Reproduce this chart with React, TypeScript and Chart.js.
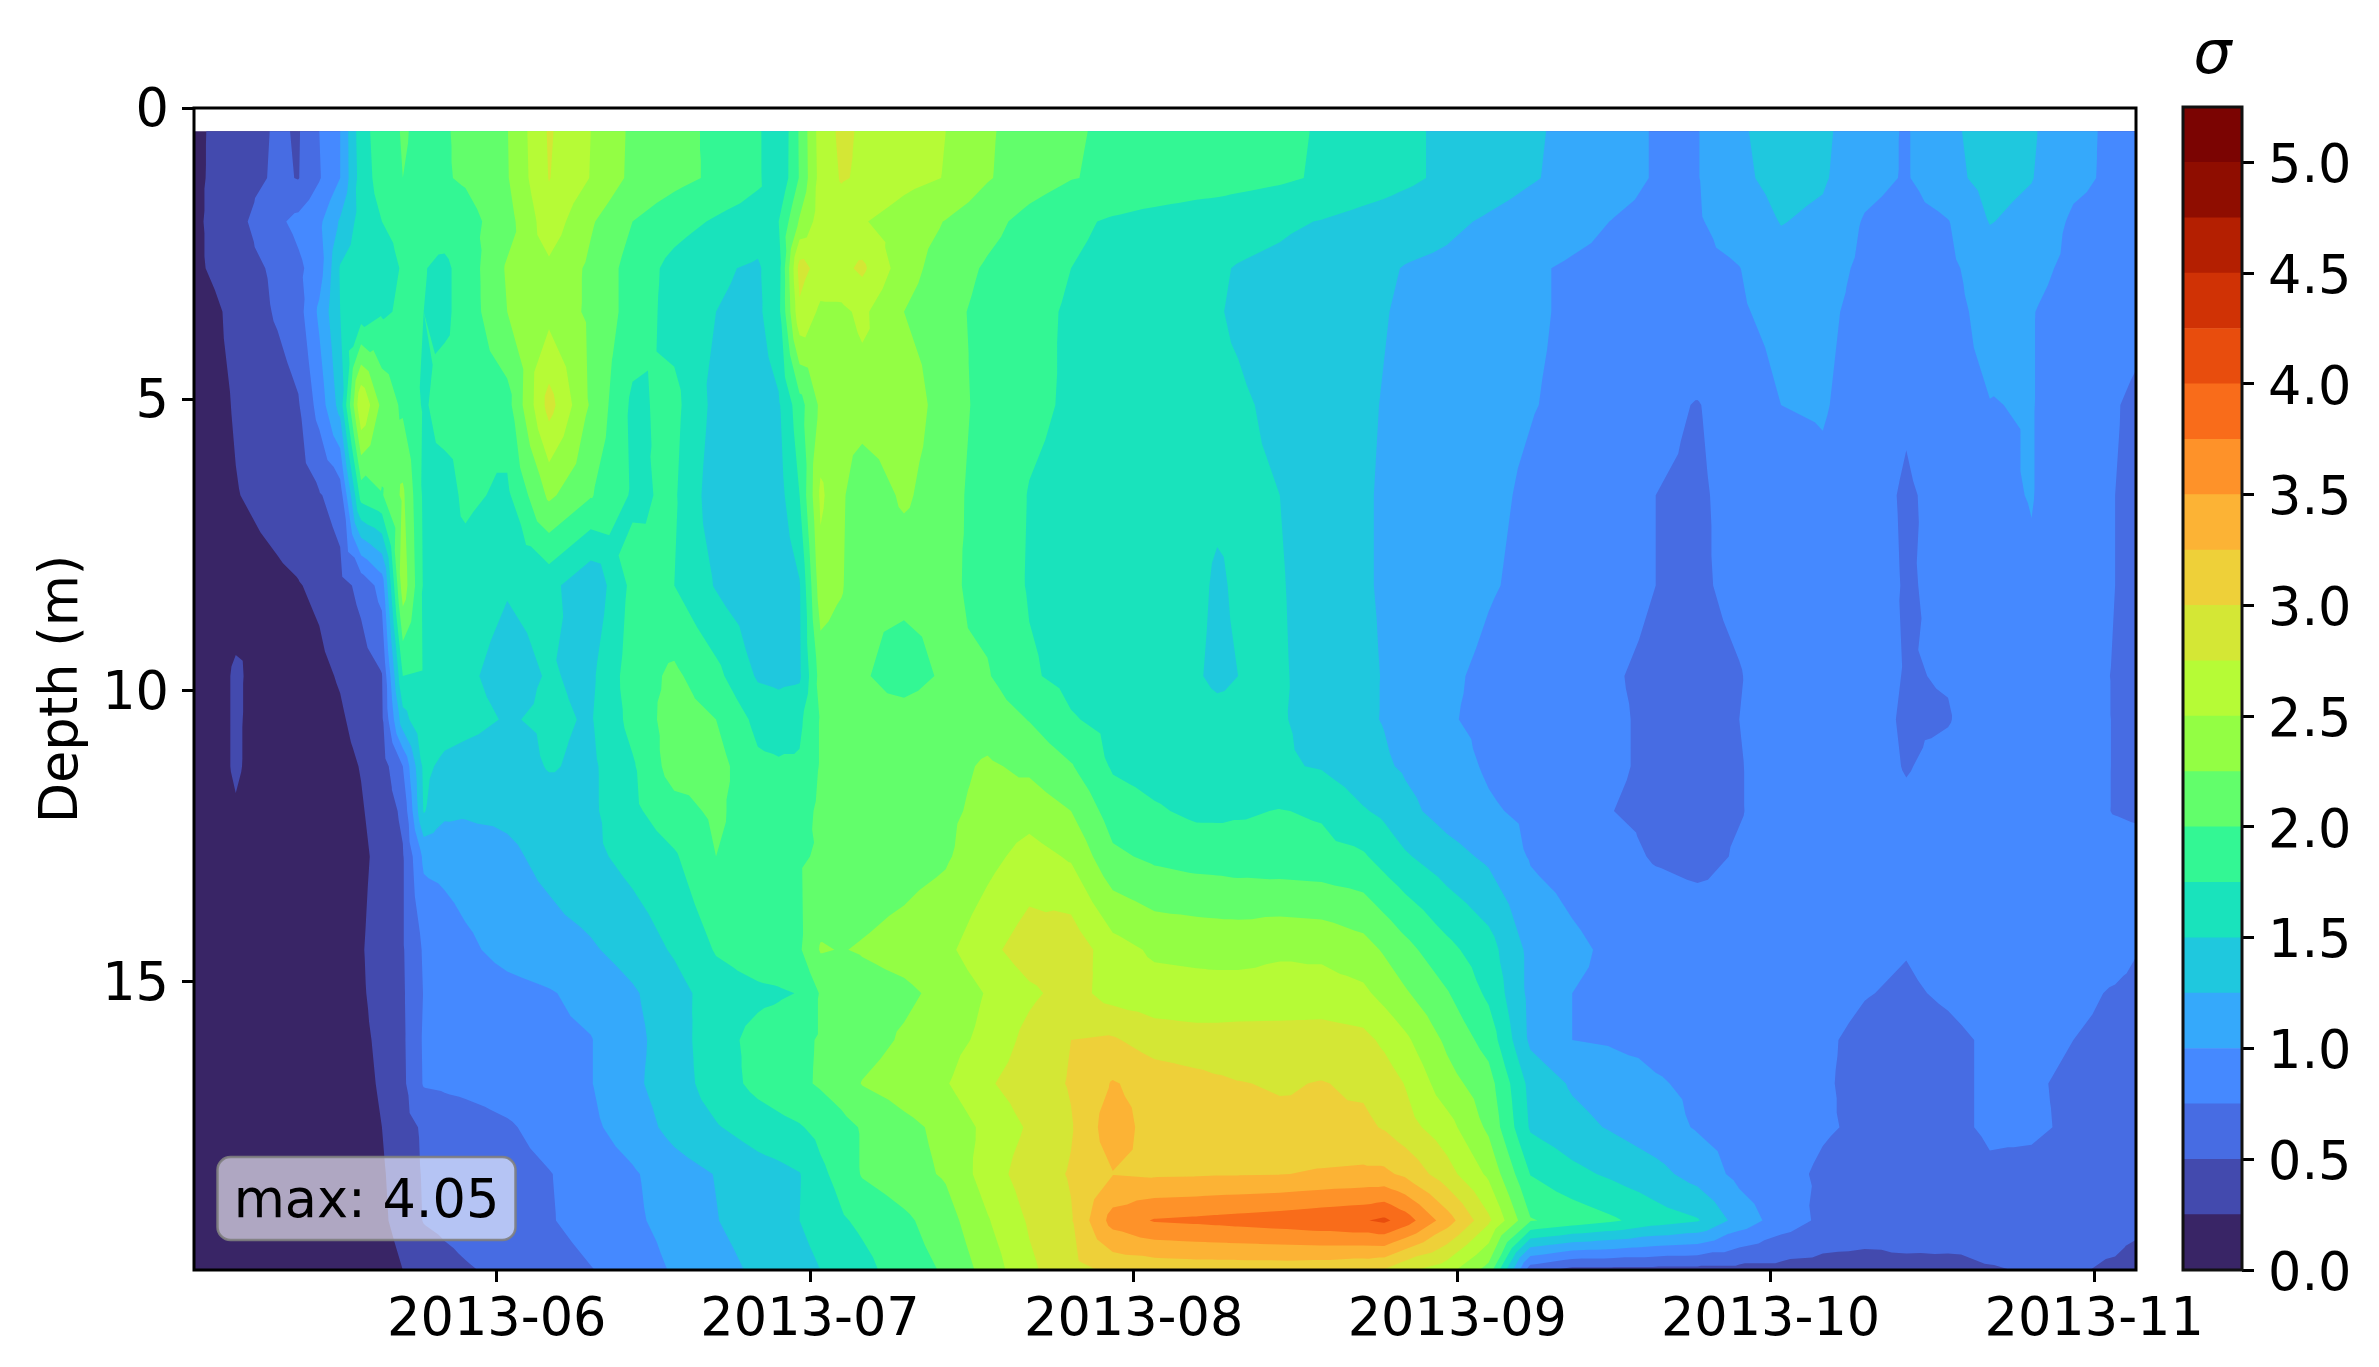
import React, { useEffect, useRef } from "react";
import { Chart, registerables } from "chart.js";
Chart.register(...registerables);

const FONT = "'DejaVu Sans'";
const FONT_SIZE = 52.5;
const monthDays = [29, 59, 90, 121, 151, 182];
const monthLabels = ["2013-06", "2013-07", "2013-08", "2013-09", "2013-10", "2013-11"];
const depthTicks = [0, 5, 10, 15];

// days since 2013-05-03
const sampleDays = [0,4,8,10,12, 14,16,18,20,22, 24,26,30,34,38, 42,46,50,54,56, 58,60,62,64,68, 72,76,80,84,88, 92,96,98,100,104, 108,112,114,116,120, 124,128,132,136,140, 144,148,152,156,160, 164,168,172,176,180, 184,186];
const depths = [0.4,1.2,1.95,2.75,3.5,5.1,6.65,8.2,9.75,10.5,11.3,12.07,12.85,14.45,15.2,16,16.75,17.5,18.3,19.1,19.95];

const sigmaD00_4 = [.20,.37,.53,.48,.75, 1.0,1.65,1.88,2.02,1.95, 1.98,2.05,2.24,2.78,2.5, 2.2,2.08,1.95,1.8,1.5, 2.03,2.62,2.8,2.72,2.6, 2.5,2.28,2.14,2.02,1.97, 1.94,1.9,1.88,1.85,1.8, 1.73,1.65,1.6,1.55,1.45, 1.38,1.28,1.2,1.1,.98, .99,1.22,1.35,1.3,1.1, .98,1.2,1.35,1.28,1.07, .95,.93];
const sigmaD01_2 = [.20,.38,.54,.49,.73, 1.0,1.62,1.86,2.0,1.95, 1.98,2.03,2.23,2.76,2.49, 2.19,2.07,1.96,1.8,1.52, 2.02,2.6,2.77,2.72,2.58, 2.49,2.27,2.12,2.01,1.96, 1.93,1.88,1.87,1.84,1.79, 1.72,1.64,1.6,1.55,1.45, 1.36,1.27,1.19,1.1,.98, .99,1.2,1.33,1.28,1.08, .98,1.18,1.33,1.26,1.06, .95,.93];
const sigmaD01_95 = [.2,.42,.7,.82,.95, 1.28,1.6,1.75,1.78,1.82, 1.86,1.9,2.15,2.65,2.28, 2.0,1.85,1.72,1.62,1.75, 2.28,2.62,2.62,2.52,2.38, 2.24,2.08,1.92,1.8,1.72, 1.66,1.62,1.6,1.58,1.54, 1.49,1.42,1.39,1.36,1.3, 1.22,1.15,1.08,.99,.93, .98,1.1,1.26,1.2,.98, .9,.99,1.26,1.18,.96, .9,.88];
const sigmaD02_75 = [.2,.38,.55,.7,.88, 1.52,1.6,1.7,1.76,1.76, 1.7,1.85,2.28,2.45,2.2, 1.9,1.67,1.53,1.47,1.65, 2.85,2.65,2.68,2.8,2.36, 2.12,1.97,1.86,1.75,1.68, 1.62,1.56,1.52,1.49,1.45, 1.38,1.31,1.28,1.24,1.2, 1.12,1.03,.97,.93,.91, .95,.995,1.15,1.1,.95, .88,.95,1.12,1.07,.94, .88,.85];
const sigmaD03_5 = [.1,.32,.53,.65,1.05, 1.5,1.6,1.72,1.78,1.75, 1.7,1.85,2.25,2.42,2.2, 1.9,1.65,1.5,1.45,1.68, 2.7,2.45,2.45,2.55,2.25, 2.07,1.93,1.82,1.72,1.65, 1.59,1.54,1.51,1.48,1.42, 1.36,1.3,1.26,1.22,1.16, 1.1,1.03,.97,.92,.88, .92,.97,1.08,1.05,.93, .85,.93,1.07,1.01,.9, .83,.8];
const sigmaD05_1 = [.1,.27,.38,.48,.85, 1.35,2.75,2.18,1.95,1.72, 1.85,1.8,1.9,2.85,2.22, 1.7,1.82,1.42,1.38,1.47, 1.9,2.3,2.35,2.4,2.45, 2.1,1.93,1.8,1.72,1.65, 1.6,1.55,1.53,1.52,1.47, 1.36,1.28,1.24,1.2,1.12, 1.06,1.01,.96,.9,.8, .74,.85,1.0,1.02,.9, .78,.92,.995,1.01,.88, .76,.72];
const sigmaD06_65 = [.08,.24,.33,.38,.48, .62,1.85,1.98,2.3,1.7, 1.65,1.8,1.7,2.3,2.02, 1.72,1.78,1.35,1.3,1.4, 1.75,2.55,2.3,2.05,2.3, 2.08,1.9,1.74,1.68,1.62, 1.58,1.56,1.54,1.53,1.5, 1.37,1.27,1.23,1.2,1.12, 1.04,.97,.9,.82,.75, .72,.82,.9,.95,.85, .72,.83,.95,1.01,.85, .75,.72];
const sigmaD08_2 = [.06,.15,.21,.24,.29, .41,.57,.85,2.4,1.72, 1.68,1.64,1.52,1.58,1.3, 1.82,1.75,1.48,1.32,1.3, 1.48,2.4,2.28,2.02,2.05, 2.05,1.92,1.73,1.66,1.6, 1.55,1.55,1.47,1.53,1.52, 1.38,1.27,1.23,1.2,1.12, 1.02,.95,.87,.8,.75, .72,.8,.86,.9,.87, .73,.8,.88,.97,.85, .75,.72];
const sigmaD09_75 = [.05,.28,.12,.15,.2, .27,.38,.49,1.75,1.73, 1.62,1.55,1.4,1.52,1.45, 1.88,2.05,1.82,1.47,1.44, 1.46,2.1,2.06,2.02,1.92, 2.03,2.02,1.78,1.68,1.6, 1.55,1.52,1.46,1.5,1.53, 1.4,1.29,1.24,1.2,1.04, .95,.87,.8,.76,.72, .68,.74,.85,.88,.82, .74,.76,.82,.88,.82, .74,.72];
const sigmaD10_5 = [.05,.28,.1,.12,.16, .22,.33,.46,1.4,1.72, 1.62,1.58,1.48,1.54,1.48, 1.83,2.12,2.0,1.68,1.63, 1.7,2.02,2.05,2.06,2.08, 2.12,2.15,1.99,1.77,1.68, 1.62,1.58,1.56,1.55,1.52, 1.42,1.28,1.24,1.16,1.02, .95,.88,.82,.77,.72, .7,.75,.83,.88,.81, .73,.74,.85,.9,.84, .74,.72];
const sigmaD11_3 = [.05,.28,.08,.1,.13, .18,.26,.38,.75,1.56, 1.44,1.4,1.35,1.52,1.45, 1.72,2.12,2.1,1.8,1.78, 1.78,2.02,2.05,2.08,2.1, 2.18,2.28,2.2,2.02,1.72, 1.65,1.6,1.59,1.56,1.53, 1.48,1.34,1.28,1.22,1.1, .97,.88,.82,.77,.72, .7,.74,.83,.88,.82, .74,.8,.86,.9,.84, .74,.72];
const sigmaD12_07 = [.05,.23,.07,.09,.11, .15,.23,.35,.55,1.52, 1.3,1.28,1.3,1.37,1.45, 1.7,1.9,2.05,1.85,1.85, 1.9,2.05,2.08,2.12,2.14, 2.2,2.32,2.4,2.25,1.88, 1.78,1.7,1.7,1.72,1.76, 1.72,1.52,1.45,1.32,1.15, 1.03,.95,.87,.75,.71, .69,.74,.82,.86,.83, .78,.82,.85,.87,.83, .74,.72];
const sigmaD12_85 = [.05,.2,.07,.08,.1, .14,.2,.32,.48,1.05, 1.08,1.12,1.2,1.32,1.44, 1.58,1.72,2.0,1.88,1.92, 1.98,2.02,2.06,2.1,2.15, 2.22,2.42,2.6,2.47,2.05, 1.95,1.9,1.89,1.87,1.85, 1.83,1.78,1.65,1.53,1.35, 1.2,.98,.9,.82,.73, .69,.77,.82,.85,.85, .82,.83,.83,.85,.84, .84,.83];
const sigmaD14_45 = [.05,.12,.07,.07,.09, .12,.23,.36,.48,.78, .86,.95,1.08,1.15,1.22, 1.35,1.53,1.77,1.88,1.92, 1.97,2.27,2.24,2.27,2.34, 2.44,2.68,2.88,2.92,2.6, 2.46,2.44,2.43,2.43,2.47, 2.45,2.35,2.22,2.08,1.82, 1.6,1.18,1.05,.95,.92, .9,.88,.85,.84,.8, .76,.83,.86,.88,.85, .83,.76];
const sigmaD15_2 = [.05,.1,.07,.07,.08, .11,.22,.34,.47,.76, .8,.84,.92,.98,1.08, 1.22,1.4,1.63,1.7,1.72, 1.76,2.02,2.08,2.15,2.2, 2.32,2.52,2.7,2.85,2.65, 2.6,2.58,2.58,2.58,2.58, 2.6,2.55,2.42,2.28,2.02, 1.7,1.18,1.0,.95,.9, .88,.87,.85,.83,.76, .72,.78,.85,.85,.8, .73,.7];
const sigmaD16 = [.05,.08,.07,.07,.08, .1,.2,.3,.46,.78, .8,.83,.89,.94,.99, 1.18,1.38,1.66,1.82,1.88, 1.95,2.02,2.08,2.15,2.28, 2.4,2.57,2.83,3.0,3.03, 2.88,2.85,2.85,2.86,2.87, 2.87,2.82,2.7,2.55,2.2, 1.9,1.2,1.0,.97,.94, .91,.88,.84,.78,.7, .65,.7,.78,.8,.75, .7,.68];
const sigmaD16_75 = [.05,.07,.07,.07,.08, .1,.18,.28,.45,.77, .79,.81,.86,.93,.99, 1.2,1.38,1.62,1.82,1.88, 1.95,2.03,2.12,2.26,2.37, 2.48,2.72,2.88,3.02,3.27, 3.15,3.08,3.04,3.01,2.98, 3.01,2.96,2.88,2.74,2.35, 2.1,1.42,1.22,1.12,1.02, .96,.9,.84,.77,.7, .66,.7,.78,.77,.72, .68,.66];
const sigmaD17_5 = [.05,.06,.06,.07,.08, .1,.15,.25,.42,.53, .6,.64,.72,.84,.95, 1.12,1.33,1.48,1.62,1.68, 1.73,1.82,1.92,2.02,2.18, 2.32,2.57,2.78,2.98,3.4, 3.12,3.1,3.09,3.08,3.05, 3.03,3.05,2.98,2.85,2.6, 2.2,1.47,1.33,1.22,1.1, .98,.92,.85,.77,.72, .68,.7,.78,.78,.72, .68,.67];
const sigmaD18_3 = [.05,.06,.06,.06,.07, .08,.12,.22,.38,.52, .56,.59,.66,.74,.85, .97,1.14,1.26,1.39,1.43, 1.49,1.7,1.83,2.02,2.15, 2.28,2.62,2.88,3.02,3.24, 3.21,3.22,3.23,3.23,3.24, 3.28,3.3,3.3,3.2,2.85, 2.45,1.74,1.57,1.45,1.33, 1.15,.93,.81,.72,.66, .62,.62,.72,.7,.64, .6,.6];
const sigmaD19_1 = [.05,.05,.05,.05,.06, .07,.1,.2,.36,.51, .55,.58,.65,.73,.85, .95,1.1,1.24,1.38,1.43, 1.5,1.58,1.72,1.8,1.95, 2.14,2.48,2.78,2.98,3.6, 3.77,3.8,3.82,3.84,3.88, 3.93,3.98,4.05,3.88,3.37, 2.8,2.02,1.9,1.78,1.62, 1.52,1.15,.88,.7,.65, .62,.6,.58,.58,.58, .58,.57];
const sigmaD19_95 = [.05,.05,.05,.05,.05, .06,.07,.1,.25,.36, .43,.48,.55,.63,.74, .85,1.03,1.15,1.3,1.37, 1.43,1.5,1.58,1.67,1.88, 2.03,2.35,2.7,2.92,3.05, 3.08,3.1,3.1,3.1,3.1, 3.08,3.03,2.98,2.8,2.6, 2.15,.6,.42,.42,.42, .42,.42,.42,.4,.39, .44,.45,.49,.51,.52, .47,.39];
const sigmaRows = [sigmaD00_4,sigmaD01_2,sigmaD01_95,sigmaD02_75,sigmaD03_5,sigmaD05_1,sigmaD06_65,sigmaD08_2,sigmaD09_75,sigmaD10_5,sigmaD11_3,sigmaD12_07,sigmaD12_85,sigmaD14_45,sigmaD15_2,sigmaD16,sigmaD16_75,sigmaD17_5,sigmaD18_3,sigmaD19_1,sigmaD19_95];

const levelStep = 0.25;
const bandColors = ["#392566","#434aae","#476ce3","#4589ff","#35a9fb","#1fc8de","#19e3bc","#33f794","#62fe6b","#93fe44","#b6fb36","#d4e735","#eed039","#fcb335","#fe9229","#f96c1a","#e84d0d","#d03205","#b41f01","#8f0d00","#7b0402"];
const colorbarTicks = [0,0.5,1,1.5,2,2.5,3,3.5,4,4.5,5];
const maxLabel = "max: 4.05";
const colorbarTitle = "\u03c3";
const depthTitle = "Depth (m)";

type V = { x: number; y: number; v: number };

function clipAbove(poly: V[], lo: number): V[] {
  const out: V[] = [];
  for (let i = 0; i < poly.length; i++) {
    const a = poly[i];
    const b = poly[(i + 1) % poly.length];
    const ai = a.v >= lo;
    const bi = b.v >= lo;
    if (ai) out.push(a);
    if (ai !== bi) {
      const t = (lo - a.v) / (b.v - a.v);
      out.push({ x: a.x + (b.x - a.x) * t, y: a.y + (b.y - a.y) * t, v: lo });
    }
  }
  return out;
}

const shiftLabels = (dy: number) => (s: any) => {
  if (s.__shifted) return;
  s.__shifted = true;
  const orig = s.drawLabels;
  s.drawLabels = function (area: any) {
    this.ctx.save();
    this.ctx.translate(0, dy);
    orig.call(this, area);
    this.ctx.restore();
  };
};

const contourPlugin = {
  id: "contourf",
  beforeDatasetsDraw(chart: any) {
    const { ctx, scales } = chart;
    const xs = sampleDays.map((d) => scales.x.getPixelForValue(d));
    const ys = depths.map((d) => scales.y.getPixelForValue(d));
    ctx.save();
    bandColors.forEach((color, b) => {
      const lo = b === 0 ? -Infinity : b * levelStep;
      ctx.beginPath();
      let any = false;
      for (let j = 0; j < ys.length - 1; j++) {
        for (let i = 0; i < xs.length - 1; i++) {
          const p: V[] = [
            { x: xs[i], y: ys[j], v: sigmaRows[j][i] },
            { x: xs[i + 1], y: ys[j], v: sigmaRows[j][i + 1] },
            { x: xs[i + 1], y: ys[j + 1], v: sigmaRows[j + 1][i + 1] },
            { x: xs[i], y: ys[j + 1], v: sigmaRows[j + 1][i] },
          ];
          const c: V = {
            x: (p[0].x + p[1].x) / 2,
            y: (p[0].y + p[2].y) / 2,
            v: (p[0].v + p[1].v + p[2].v + p[3].v) / 4,
          };
          for (let k = 0; k < 4; k++) {
            const tri = clipAbove([p[k], p[(k + 1) % 4], c], lo);
            if (tri.length < 3) continue;
            any = true;
            ctx.moveTo(tri[0].x, tri[0].y);
            for (let m = 1; m < tri.length; m++) ctx.lineTo(tri[m].x, tri[m].y);
            ctx.closePath();
          }
        }
      }
      if (any) {
        ctx.fillStyle = color;
        ctx.fill();
      }
    });
    ctx.restore();
  },
  afterDraw(chart: any) {
    const { ctx, chartArea: a } = chart;
    ctx.save();
    ctx.strokeStyle = "#000";
    ctx.lineWidth = 3;
    ctx.strokeRect(a.left, a.top, a.right - a.left, a.bottom - a.top);
    const bw = 298, bh = 83;
    const bx = a.left + 23.5, by = a.bottom - 30 - bh;
    ctx.beginPath();
    ctx.roundRect(bx, by, bw, bh, 13);
    ctx.fillStyle = "rgba(255,255,255,0.6)";
    ctx.fill();
    ctx.strokeStyle = "rgba(128,128,128,0.9)";
    ctx.lineWidth = 2.5;
    ctx.stroke();
    ctx.fillStyle = "#000";
    ctx.font = `${FONT_SIZE}px ${FONT}`;
    ctx.textAlign = "center";
    ctx.textBaseline = "alphabetic";
    ctx.fillText(maxLabel, bx + bw / 2, by + bh / 2 + 18);
    ctx.restore();
  },
};

const colorbarPlugin = {
  id: "cbframe",
  afterDraw(chart: any) {
    const { ctx, chartArea: a } = chart;
    ctx.save();
    ctx.strokeStyle = "#111";
    ctx.lineWidth = 3;
    ctx.strokeRect(a.left, a.top, a.right - a.left, a.bottom - a.top);
    ctx.fillStyle = "#000";
    ctx.font = `italic 60px ${FONT}`;
    ctx.textAlign = "center";
    ctx.textBaseline = "alphabetic";
    ctx.fillText(colorbarTitle, (a.left + a.right) / 2, 73);
    ctx.restore();
  },
};

export default function App() {
  const mainRef = useRef<HTMLCanvasElement>(null);
  const barRef = useRef<HTMLCanvasElement>(null);
  useEffect(() => {
    const points: { x: number; y: number }[] = [];
    depths.forEach((d) => sampleDays.forEach((t) => points.push({ x: t, y: d })));
    const main = new Chart(mainRef.current!, {
      type: "scatter",
      data: { datasets: [{ data: points, pointRadius: 0, showLine: false }] },
      plugins: [contourPlugin],
      options: {
        animation: false,
        responsive: false,
        layout: { padding: { top: 108, right: 243, left: 0, bottom: 0 } },
        plugins: { legend: { display: false }, tooltip: { enabled: false } },
        scales: {
          x: {
            type: "linear",
            min: 0,
            max: 186,
            afterBuildTicks: (s: any) => { s.ticks = monthDays.map((v) => ({ value: v })); },
            afterFit: (s: any) => { s.height = 97; },
            ticks: {
              autoSkip: false,
              maxRotation: 0,
              includeBounds: false,
              padding: 8,
              color: "#000",
              font: { family: FONT, size: FONT_SIZE },
              callback: (v: any) => monthLabels[monthDays.indexOf(v)] ?? "",
            },
            grid: { drawOnChartArea: false, tickLength: 12, tickWidth: 3, tickColor: "#000" },
            border: { display: false },
          },
          y: {
            type: "linear",
            reverse: true,
            min: 0,
            max: 19.95,
            afterBuildTicks: (s: any) => { s.ticks = depthTicks.map((v) => ({ value: v })); },
            afterFit: (s: any) => { s.width = 194; shiftLabels(4.5)(s); },
            ticks: {
              includeBounds: false,
              padding: 13,
              color: "#000",
              font: { family: FONT, size: FONT_SIZE },
              callback: (v: any) => String(v),
            },
            grid: { drawOnChartArea: false, tickLength: 12, tickWidth: 3, tickColor: "#000" },
            border: { display: false },
            title: {
              display: true,
              text: depthTitle,
              color: "#000",
              font: { family: FONT, size: FONT_SIZE },
              padding: { top: 32, bottom: 0 },
            },
          },
        },
      },
    } as any);
    const bar = new Chart(barRef.current!, {
      type: "bar",
      data: {
        labels: [""],
        datasets: bandColors.map((c, i) => ({
          data: [[i * levelStep, (i + 1) * levelStep]],
          backgroundColor: c,
          borderWidth: 0,
          grouped: false,
          barPercentage: 1,
          categoryPercentage: 1,
        })),
      },
      plugins: [colorbarPlugin],
      options: {
        animation: false,
        responsive: false,
        layout: { padding: { top: 107, left: 43, right: 0, bottom: 97 } },
        plugins: { legend: { display: false }, tooltip: { enabled: false } },
        scales: {
          x: { display: false },
          y: {
            type: "linear",
            position: "right",
            min: 0,
            max: bandColors.length * levelStep,
            afterBuildTicks: (s: any) => { s.ticks = colorbarTicks.map((v) => ({ value: v })); },
            afterFit: (s: any) => { s.width = 137; shiftLabels(6)(s); },
            ticks: {
              includeBounds: false,
              padding: 14,
              color: "#000",
              font: { family: FONT, size: FONT_SIZE },
              callback: (v: any) => Number(v).toFixed(1),
            },
            grid: { drawOnChartArea: false, tickLength: 12, tickWidth: 3, tickColor: "#000" },
            border: { display: false },
          },
        },
      },
    } as any);
    return () => {
      main.destroy();
      bar.destroy();
    };
  }, []);
  return (
    <div style={{ position: "absolute", left: 0, top: 0, width: 2379, height: 1367, background: "#fff" }}>
      <canvas ref={mainRef} width={2379} height={1367} style={{ position: "absolute", left: 0, top: 0 }} />
      <canvas ref={barRef} width={239} height={1367} style={{ position: "absolute", left: 2140, top: 0 }} />
    </div>
  );
}
